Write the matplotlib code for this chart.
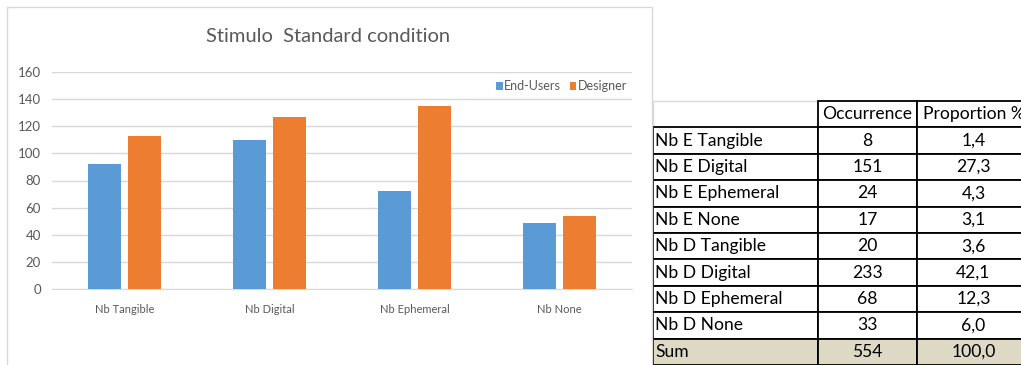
import matplotlib.pyplot as plt
import numpy as np
from matplotlib.patches import Rectangle

plt.rcParams['font.family'] = ['Lato', 'DejaVu Sans']

# bar chart data
categories = ["Nb Tangible", "Nb Digital", "Nb Ephemeral", "Nb None"]
end_users = [92, 110, 72, 49]
designer = [113, 127, 135, 54]

# summary table data
row_labels = ["Nb E Tangible", "Nb E Digital", "Nb E Ephemeral", "Nb E None",
              "Nb D Tangible", "Nb D Digital", "Nb D Ephemeral", "Nb D None", "Sum"]
occurrence = [8, 151, 24, 17, 20, 233, 68, 33, 554]
proportion = [1.4, 27.3, 4.3, 3.1, 3.6, 42.1, 12.3, 6.0, 100.0]
col_labels = ["", "Occurrence", "Proportion %"]

BLUE = "#5B9BD5"
ORANGE = "#ED7D31"
GRID = "#D9D9D9"
TXT = "#595959"

W, H = 1021, 365
fig = plt.figure(figsize=(W / 100, H / 100), dpi=100)

# chart frame
fig.patches.append(Rectangle((7 / W, -0.1), 645 / W, 1.1 - 7 / H, transform=fig.transFigure,
                             fill=False, edgecolor=GRID, lw=1))
fig.text(328 / W, 1 - 36 / H, "Stimulo  Standard condition", ha="center", va="center",
         fontsize=14.5, color=TXT)

ax = fig.add_axes([52 / W, 1 - 289 / H, 580 / W, 217 / H])
x = np.arange(len(categories))
bw = 0.23
ax.bar(x - 0.14, end_users, bw, color=BLUE, label="End-Users", zorder=3)
ax.bar(x + 0.14, designer, bw, color=ORANGE, label="Designer", zorder=3)
ax.set_xlim(-0.5, len(categories) - 0.5)
ax.set_ylim(0, 160)
ax.set_yticks(range(0, 161, 20))
ax.set_xticks(x)
ax.set_xticklabels(categories)
ax.grid(axis="y", color=GRID, lw=1, zorder=0)
for s in ["top", "right", "left"]:
    ax.spines[s].set_visible(False)
ax.spines["bottom"].set_color(GRID)
ax.tick_params(axis="both", length=0, colors=TXT)
ax.tick_params(axis="x", pad=11, labelsize=8)
ax.tick_params(axis="y", pad=8, labelsize=9.5)
ax.legend(loc="upper right", bbox_to_anchor=(1.0, 0.985), ncol=2, frameon=False,
          fontsize=9, labelcolor=TXT, handlelength=0.55, handleheight=0.55,
          handletextpad=0.1, columnspacing=0.7, borderaxespad=0)

# table on the right
tax = fig.add_axes([653 / W, 0, 377 / W, 264 / H])
tax.axis("off")
cells = [[lab, str(o), f"{p:.1f}".replace(".", ",")]
         for lab, o, p in zip(row_labels, occurrence, proportion)]
tbl = tax.table(cellText=[col_labels] + cells, bbox=[0, 0, 1, 1],
                colWidths=[165, 99, 113], cellLoc="center")
tbl.auto_set_font_size(False)
n_rows = len(cells) + 1
for (r, c), cell in tbl.get_celld().items():
    cell.set_linewidth(1.3)
    cell.set_edgecolor("black")
    cell.get_text().set_fontsize(12.6)
    cell.get_text().set_color("black")
    if c == 0:
        cell.get_text().set_ha("left")
        cell.PAD = 0.015
    if r == n_rows - 1:
        cell.set_facecolor("#DDD9C4")
    if r == 0 and c == 0:
        cell.set_edgecolor(GRID)
        cell.visible_edges = "LT"
        cell.set_linewidth(1)

fig.savefig("out.png", dpi=100)
